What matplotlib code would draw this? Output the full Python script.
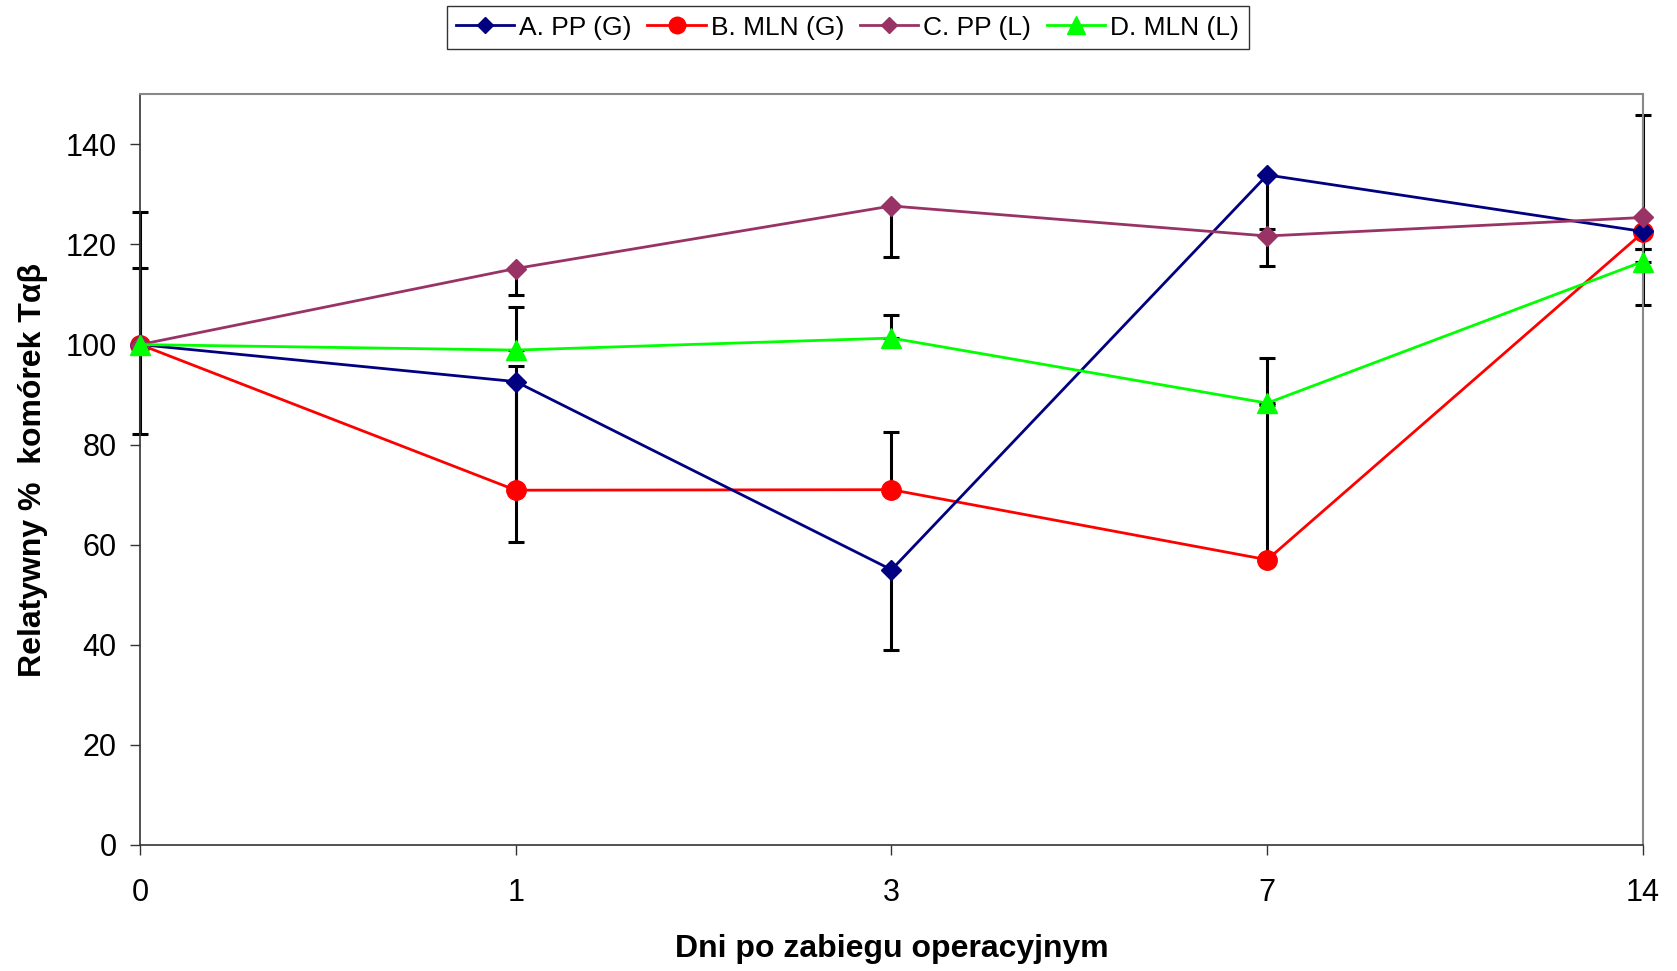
import matplotlib
matplotlib.use("Agg")
import matplotlib.pyplot as plt
import numpy as np

plt.rcParams['font.family'] = ['Liberation Sans', 'DejaVu Sans']

days = ["0", "1", "3", "7", "14"]
a_pp_g = [100, 92.6, 55.0, 133.9, 122.6]
b_mln_g = [100, 70.9, 71.0, 57.0, 122.4]
c_pp_l = [100, 115.2, 127.7, 121.7, 125.4]
d_mln_l = [100, 98.9, 101.3, 88.3, 116.6]

# error bars (only one direction shown per series)
a_err_minus = [17.9, 32.0, 16.0, 10.8, 14.7]
c_err_minus = [0.0, 5.3, 10.2, 5.9, 6.3]
b_err_plus = [26.4, 24.9, 11.5, 31.0, 23.4]
d_err_plus = [15.4, 8.7, 4.7, 9.0, 2.5]

labels = ["A. PP (G)", "B. MLN (G)", "C. PP (L)", "D. MLN (L)"]
y_ticks = [0, 20, 40, 60, 80, 100, 120, 140]

fig = plt.figure(figsize=(16.77, 9.71), dpi=100)
ax = fig.add_axes([0.0835, 0.1298, 0.8962, 0.7730])
x = np.arange(len(days))

zero = [0] * len(days)
err_kw = dict(fmt='none', ecolor='black', elinewidth=2.2, capsize=6, capthick=2.2, zorder=2)
for vals, yerr in [(a_pp_g, [a_err_minus, zero]), (c_pp_l, [c_err_minus, zero]),
                   (b_mln_g, [zero, b_err_plus]), (d_mln_l, [zero, d_err_plus])]:
    cont = ax.errorbar(x, vals, yerr=yerr, **err_kw)
    for art in list(cont.lines[1]) + list(cont.lines[2]):
        art.set_clip_on(False)

ax.plot(x, a_pp_g, color='#000080', lw=2, marker='D', ms=10, label=labels[0], zorder=4, clip_on=False)
ax.plot(x, b_mln_g, color='#FF0000', lw=2, marker='o', ms=14, label=labels[1], zorder=3, clip_on=False)
ax.plot(x, c_pp_l, color='#993366', lw=2, marker='D', ms=10, label=labels[2], zorder=4, clip_on=False)
ax.plot(x, d_mln_l, color='#00FF00', lw=2, marker='^', ms=15, label=labels[3], zorder=5, clip_on=False)

ax.set_xlim(0, len(days) - 1)
ax.set_ylim(0, 150)
ax.set_xticks(x)
ax.set_xticklabels(days)
ax.set_yticks(y_ticks)
ax.tick_params(axis='both', labelsize=22, length=7, width=1, colors='#333333', labelcolor='black', direction='out')
ax.tick_params(axis='x', pad=17)
ax.tick_params(axis='y', pad=10)

for s in ['left', 'bottom']:
    ax.spines[s].set_color('#333333')
    ax.spines[s].set_linewidth(1.2)
for s in ['top', 'right']:
    ax.spines[s].set_color('#888888')
    ax.spines[s].set_linewidth(1.5)

ax.set_xlabel("Dni po zabiegu operacyjnym", fontsize=23, fontweight='bold', va='center')
ax.set_ylabel("Relatywny %  komórek Tαβ", fontsize=23, fontweight='bold', va='center')
ax.xaxis.set_label_coords(0.5, -0.139)
ax.yaxis.set_label_coords(-0.071, 0.5)

leg = fig.legend(loc='upper center', bbox_to_anchor=(0.5054, 0.9934), ncol=4, fontsize=19,
                 frameon=True, fancybox=False, edgecolor='black', handlelength=2.2,
                 handletextpad=0.2, columnspacing=0.6, borderpad=0.35, borderaxespad=0,
                 markerscale=0.85)
leg.get_frame().set_linewidth(1.0)

fig.savefig("out.png", dpi=100)
